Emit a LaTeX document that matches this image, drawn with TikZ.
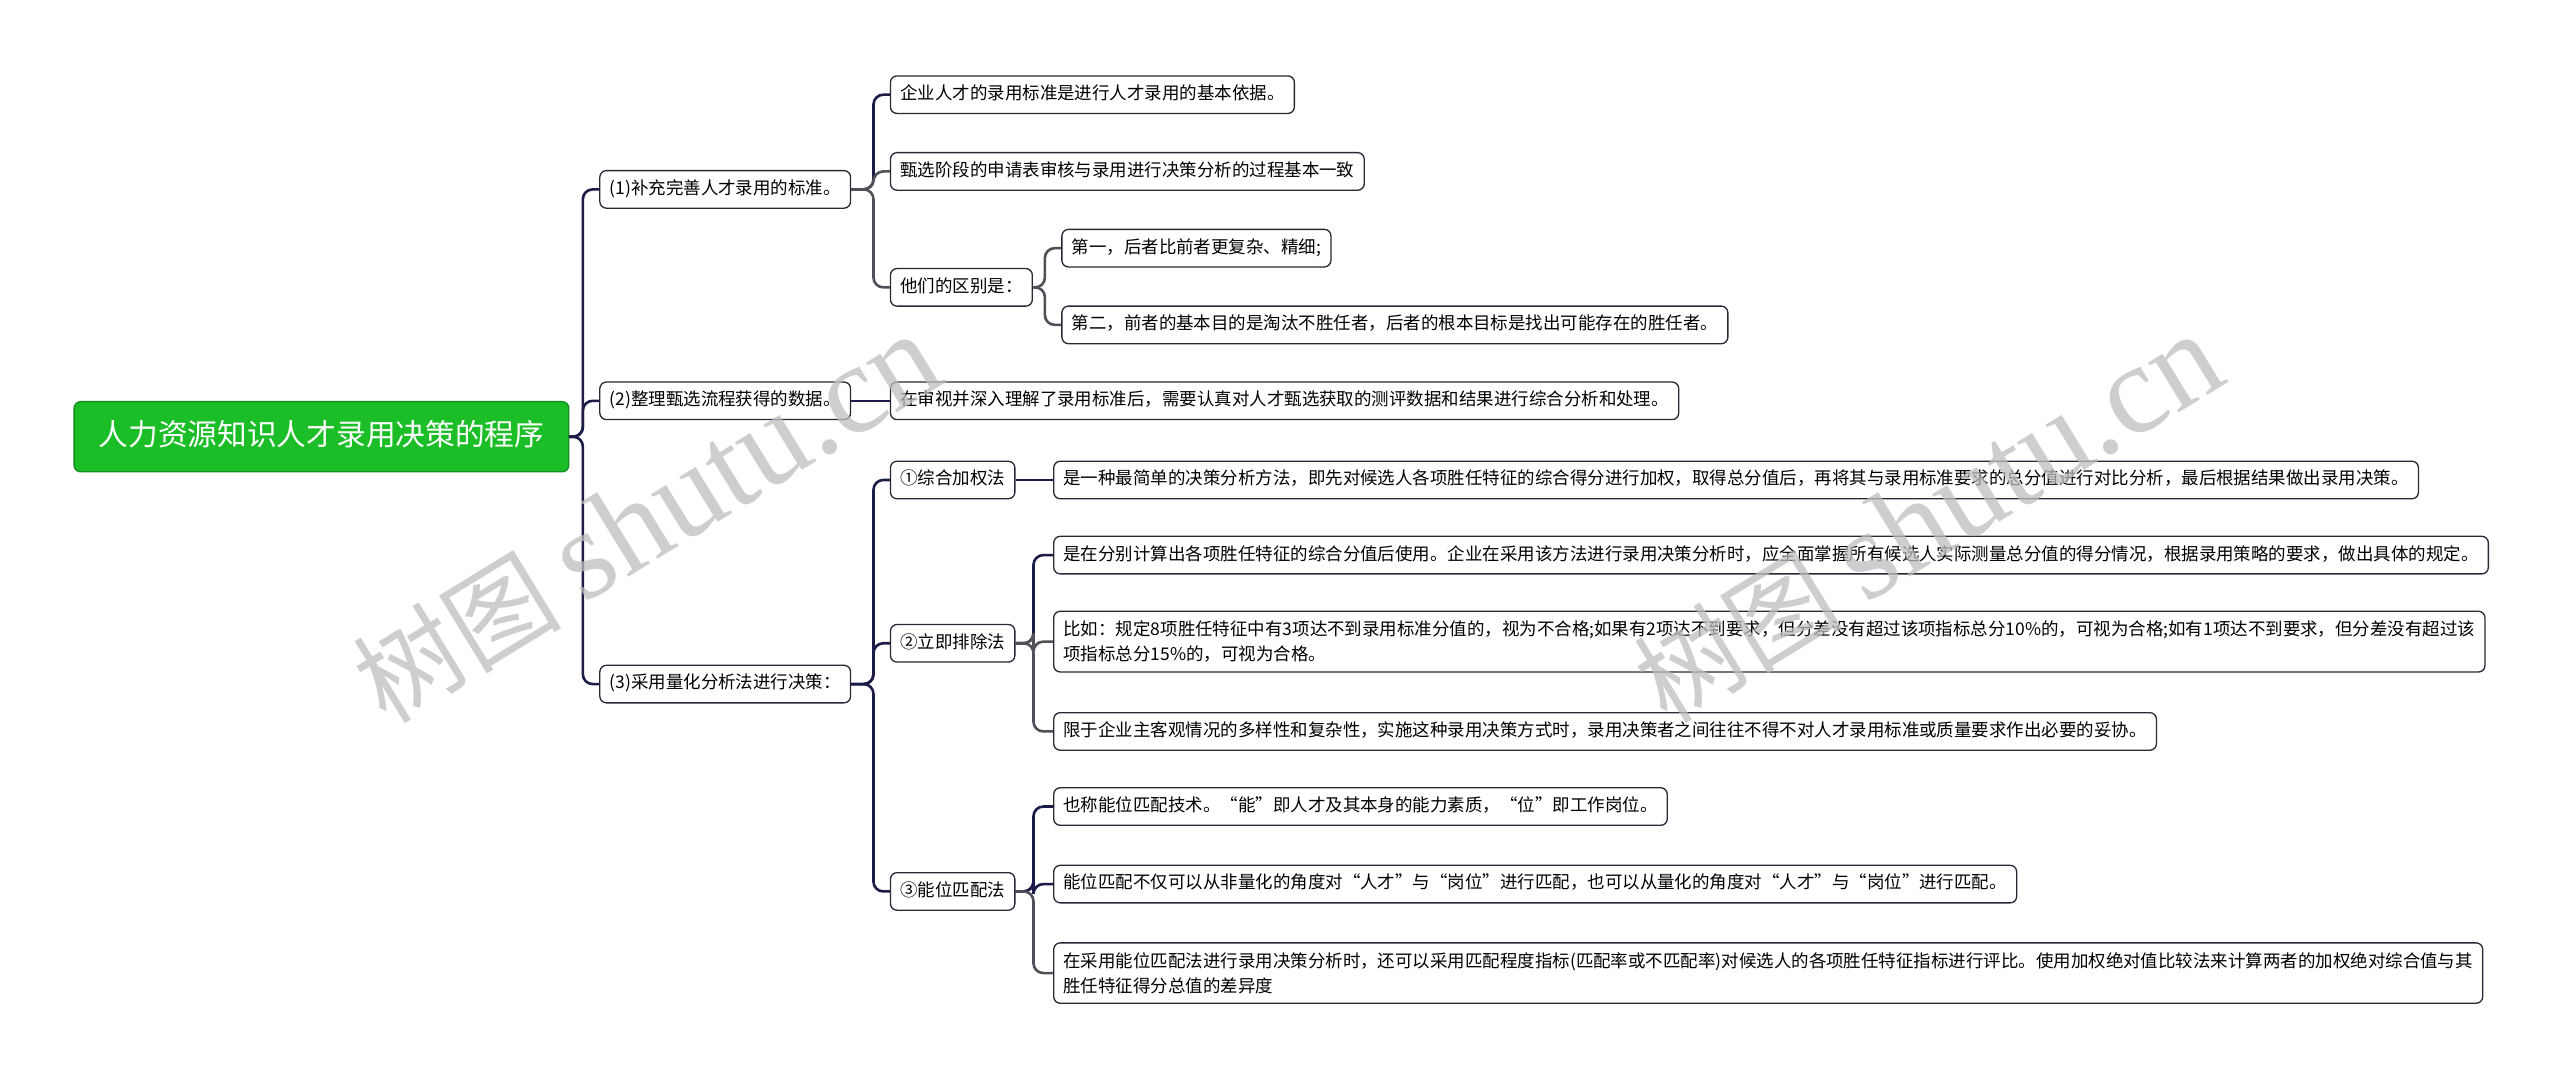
\documentclass[tikz,border=0pt]{standalone}
\usepackage{fontspec}
\newfontfamily\cjk{Noto Sans CJK SC}
\newfontfamily\wmfont{Liberation Serif}
\definecolor{navy}{RGB}{28,28,72}
\definecolor{lgray}{RGB}{80,80,88}
\definecolor{boxc}{RGB}{40,40,55}
\definecolor{rootg}{RGB}{28,190,40}
\definecolor{rootb}{RGB}{20,140,30}
\definecolor{wmc}{RGB}{190,190,190}
\begin{document}
\begin{tikzpicture}[x=1pt,y=-1pt,
  box/.style={draw=boxc, line width=0.8pt, rounded corners=4pt, fill=white,
    inner xsep=6pt, inner ysep=5.9pt, anchor=west,
    font=\cjk\fontsize{10.7}{15}\selectfont, text height=8.6pt, text depth=2.6pt},
  twobox/.style={draw=boxc, line width=0.8pt, rounded corners=4pt, fill=white,
    inner xsep=6pt, inner ysep=6pt, anchor=west, align=left,
    font=\cjk\fontsize{10.7}{15}\selectfont},
  rootbox/.style={draw=rootb, line width=0.8pt, rounded corners=4pt, fill=rootg,
    text=white, inner xsep=15pt, inner ysep=12pt, anchor=west,
    font=\cjk\fontsize{18.2}{22}\selectfont, text height=15pt, text depth=4pt},
  conn/.style={draw=navy, line width=1.6pt, rounded corners=6pt},
  conng/.style={draw=lgray, line width=1.6pt, rounded corners=6pt},
  wm/.style={text=wmc, opacity=0.75, rotate=31.5, anchor=center}
]
\useasboundingbox (0,0) rectangle (1568,660);
\fill[white] (0,0) rectangle (1568,660);

% spine coordinates
\coordinate (s0) at (357,0);
\coordinate (s1) at (535,0);
\coordinate (s2) at (640,0);
\coordinate (s3) at (633,0);

% root
\node[rootbox] (root) at (45,267.5) {人力资源知识人才录用决策的程序};

% level 1
\node[box] (l1a) at (367,116) {(1)补充完善人才录用的标准。};
\node[box] (l1b) at (367,245.5) {(2)整理甄选流程获得的数据。};
\node[box] (l1c) at (367,419) {(3)采用量化分析法进行决策：};

% under (1)
\node[box] (a1) at (545,58) {企业人才的录用标准是进行人才录用的基本依据。};
\node[box] (a2) at (545,105) {甄选阶段的申请表审核与录用进行决策分析的过程基本一致};
\node[box] (a3) at (545,176) {他们的区别是：};
\node[box] (a31) at (650,152) {第一，后者比前者更复杂、精细;};
\node[box] (a32) at (650,199) {第二，前者的基本目的是淘汰不胜任者，后者的根本目标是找出可能存在的胜任者。};

% under (2)
\node[box] (b1) at (545,245.5) {在审视并深入理解了录用标准后，需要认真对人才甄选获取的测评数据和结果进行综合分析和处理。};

% under (3)
\node[box] (c1) at (545,294) {①综合加权法};
\node[box] (c2) at (545,394) {②立即排除法};
\node[box] (c3) at (545,546) {③能位匹配法};

\node[box] (c11) at (645,294) {是一种最简单的决策分析方法，即先对候选人各项胜任特征的综合得分进行加权，取得总分值后，再将其与录用标准要求的总分值进行对比分析，最后根据结果做出录用决策。};
\node[box] (c21) at (645,340) {是在分别计算出各项胜任特征的综合分值后使用。企业在采用该方法进行录用决策分析时，应全面掌握所有候选人实际测量总分值的得分情况，根据录用策略的要求，做出具体的规定。};
\node[twobox] (c22) at (645,393) {比如：规定8项胜任特征中有3项达不到录用标准分值的，视为不合格;如果有2项达不到要求，但分差没有超过该项指标总分10\%的，可视为合格;如有1项达不到要求，但分差没有超过该\\项指标总分15\%的，可视为合格。};
\node[box] (c23) at (645,448) {限于企业主客观情况的多样性和复杂性，实施这种录用决策方式时，录用决策者之间往往不得不对人才录用标准或质量要求作出必要的妥协。};
\node[box] (c31) at (645,494) {也称能位匹配技术。“能”即人才及其本身的能力素质，“位”即工作岗位。};
\node[box] (c32) at (645,541.5) {能位匹配不仅可以从非量化的角度对“人才”与“岗位”进行匹配，也可以从量化的角度对“人才”与“岗位”进行匹配。};
\node[twobox] (c33) at (645,596) {在采用能位匹配法进行录用决策分析时，还可以采用匹配程度指标(匹配率或不匹配率)对候选人的各项胜任特征指标进行评比。使用加权绝对值比较法来计算两者的加权绝对综合值与其\\胜任特征得分总值的差异度};

% connectors
\draw[conn] (root.east) -- (root.east -| s0) |- (l1a.west);
\draw[conn] (root.east) -- (root.east -| s0) |- (l1b.west);
\draw[conn] (root.east) -- (root.east -| s0) |- (l1c.west);

\draw[conn] (l1a.east) -- (l1a.east -| s1) |- (a1.west);
\draw[conng] (l1a.east) -- (l1a.east -| s1) |- (a2.west);
\draw[conng] (l1a.east) -- (l1a.east -| s1) |- (a3.west);
\draw[conng] (a3.east) -- (a3.east -| s2) |- (a31.west);
\draw[conng] (a3.east) -- (a3.east -| s2) |- (a32.west);

\draw[conn] (l1b.east) -- (b1.west);

\draw[conn] (l1c.east) -- (l1c.east -| s1) |- (c1.west);
\draw[conn] (l1c.east) -- (l1c.east -| s1) |- (c2.west);
\draw[conn] (l1c.east) -- (l1c.east -| s1) |- (c3.west);

\draw[conn] (c1.east) -- (c11.west);
\draw[conn] (c2.east) -- (c2.east -| s3) |- (c21.west);
\draw[conng] (c2.east) -- (c2.east -| s3) |- (c22.west);
\draw[conng] (c2.east) -- (c2.east -| s3) |- (c23.west);
\draw[conn] (c3.east) -- (c3.east -| s3) |- (c31.west);
\draw[conn] (c3.east) -- (c3.east -| s3) |- (c32.west);
\draw[conng] (c3.east) -- (c3.east -| s3) |- (c33.west);

% watermarks
\node[wm] (wm1) at (396,318) {{\cjk\fontsize{64}{64}\selectfont 树图}\hspace{14pt}{\wmfont\fontsize{78}{78}\selectfont shutu.cn}};
\node[wm] (wm2) at (1181,318) {{\cjk\fontsize{64}{64}\selectfont 树图}\hspace{14pt}{\wmfont\fontsize{78}{78}\selectfont shutu.cn}};
\end{tikzpicture}
\end{document}
